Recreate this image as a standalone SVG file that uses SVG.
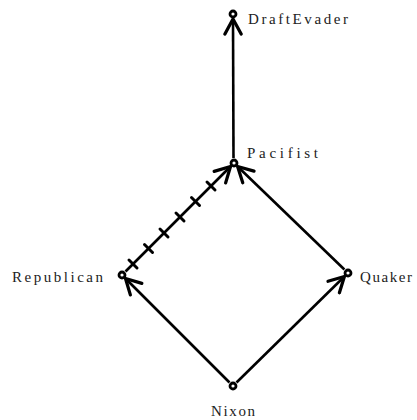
<svg xmlns="http://www.w3.org/2000/svg" width="417" height="420" viewBox="0 0 417 420">
  <style>
    .edge { stroke: #000; stroke-width: 2.6; fill: none; marker-end: url(#head); }
    .tick { stroke: #000; stroke-width: 3; stroke-linecap: round; }
    .node circle { fill: #fff; stroke: #000; stroke-width: 2.8; }
    .node text { font-family: "Liberation Serif", "DejaVu Serif", serif; font-size: 15px; fill: #222; }
  </style>
  <defs>
    <marker id="head" markerUnits="userSpaceOnUse" markerWidth="20" markerHeight="20" viewBox="-14 -8 16 16" refX="0" refY="0" orient="auto">
      <path d="M-12,-6.5 L0,0 L-12,6.5" fill="none" stroke="#000" stroke-width="2.6" stroke-linecap="round" stroke-linejoin="round"/>
    </marker>
  </defs>

  <g id="connectors">
    <!-- Pacifist -> DraftEvader -->
    <line class="edge" x1="233.5" y1="158" x2="233" y2="19"/>
    <!-- Quaker -> Pacifist -->
    <line class="edge" x1="344.4" y1="269.5" x2="237.6" y2="166.5"/>
    <!-- Republican -> Pacifist (negated link) -->
    <line class="edge" x1="125.5" y1="271.5" x2="230.5" y2="166.5"/>
    <g id="negation-ticks">
      <line class="tick" x1="129" y1="260" x2="137" y2="268"/>
      <line class="tick" x1="144.5" y1="244.5" x2="152.5" y2="252.5"/>
      <line class="tick" x1="160" y1="229" x2="168" y2="237"/>
      <line class="tick" x1="176" y1="213" x2="184" y2="221"/>
      <line class="tick" x1="191.5" y1="197.5" x2="199.5" y2="205.5"/>
      <line class="tick" x1="207" y1="182" x2="215" y2="190"/>
    </g>
    <!-- Nixon -> Republican -->
    <line class="edge" x1="229.5" y1="382.5" x2="125.5" y2="278.5"/>
    <!-- Nixon -> Quaker -->
    <line class="edge" x1="236.5" y1="382.5" x2="344.4" y2="276.5"/>
  </g>

  <g id="DraftEvader" class="node">
    <circle cx="233" cy="14" r="3"/>
    <text x="248" y="24" textLength="100" lengthAdjust="spacing">DraftEvader</text>
  </g>
  <g id="Pacifist" class="node">
    <circle cx="234" cy="163" r="3"/>
    <text x="247" y="158" textLength="71" lengthAdjust="spacing">Pacifist</text>
  </g>
  <g id="Republican" class="node">
    <circle cx="122" cy="275" r="3"/>
    <text x="12" y="282" textLength="91" lengthAdjust="spacing">Republican</text>
  </g>
  <g id="Quaker" class="node">
    <circle cx="348" cy="273" r="3"/>
    <text x="360" y="282" textLength="52" lengthAdjust="spacing">Quaker</text>
  </g>
  <g id="Nixon" class="node">
    <circle cx="233" cy="386" r="3"/>
    <text x="211" y="416" textLength="44" lengthAdjust="spacing">Nixon</text>
  </g>
</svg>
